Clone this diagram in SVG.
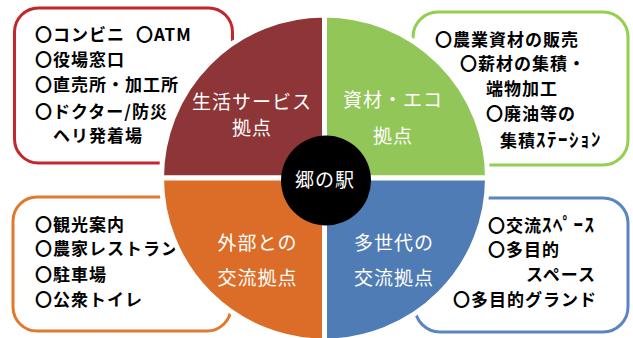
<svg xmlns="http://www.w3.org/2000/svg" width="633" height="338" viewBox="0 0 633 338">
<style>
.box{fill:#fff;stroke-width:3}
.t{font-family:"Noto Sans CJK JP","Noto Sans",sans-serif;font-weight:700;font-size:17px;letter-spacing:1px;fill:#000}
.hw{font-size:19px;letter-spacing:1.5px}
.w{font-family:"Noto Sans CJK JP","Noto Sans",sans-serif;font-weight:400;font-size:19px;letter-spacing:1px;fill:#fff;text-anchor:middle}
.q{stroke:#fff;stroke-width:5}
</style>
<rect width="633" height="338" fill="#fff"/>
<g id="box-service">
<rect class="box" x="14.5" y="8" width="218" height="155" rx="24" stroke="#C1272D"/>
<text class="t" x="35" y="41">〇コンビニ</text>
<text class="t" x="136" y="41">〇ATM</text>
<text class="t" x="35" y="66">〇役場窓口</text>
<text class="t" x="35" y="91">〇直売所・加工所</text>
<text class="t" x="35" y="118">〇ドクター/防災</text>
<text class="t" x="53" y="142">ヘリ発着場</text>
</g>
<g id="box-eco">
<rect class="box" x="413" y="12" width="215" height="153" rx="25" stroke="#92D050"/>
<text class="t" x="435" y="46">〇農業資材の販売</text>
<text class="t" x="460" y="70">〇薪材の集積・</text>
<text class="t" x="486" y="95">端物加工</text>
<text class="t" x="486" y="120">〇廃油等の</text>
<text class="t" x="500" y="147">集積<tspan class="hw">ｽﾃｰｼｮﾝ</tspan></text>
</g>
<g id="box-external">
<rect class="box" x="13" y="197" width="218" height="134" rx="24" stroke="#E07A2E"/>
<text class="t" x="35" y="231">〇観光案内</text>
<text class="t" x="35" y="255">〇農家レストラン</text>
<text class="t" x="35" y="281">〇駐車場</text>
<text class="t" x="35" y="306">〇公衆トイレ</text>
</g>
<g id="box-generation">
<rect class="box" x="415" y="198" width="213" height="134" rx="25" stroke="#5A86BF"/>
<text class="t" x="488" y="232">〇交流<tspan class="hw">ｽﾍﾟｰｽ</tspan></text>
<text class="t" x="488" y="256">〇多目的</text>
<text class="t" x="526" y="281">スペース</text>
<text class="t" x="453" y="306">〇多目的グランド</text>
</g>
<g id="q-service">
<path class="q" d="M324.5,178 L161.5,178 A163,163 0 0 1 324.5,15 Z" fill="#8E3537"/>
<text class="w" x="252" y="109">生活サービス</text>
<text class="w" x="252" y="135">拠点</text>
</g>
<g id="q-eco">
<path class="q" d="M324.5,178 L324.5,15 A163,163 0 0 1 487.5,178 Z" fill="#92C658"/>
<text class="w" x="393" y="107" font-size="18">資材・エコ</text>
<text class="w" x="393" y="143">拠点</text>
</g>
<g id="q-generation">
<path class="q" d="M324.5,178 L487.5,178 A163,163 0 0 1 324.5,341 Z" fill="#4F7CB4"/>
<text class="w" x="394" y="250">多世代の</text>
<text class="w" x="394" y="285">交流拠点</text>
</g>
<g id="q-external">
<path class="q" d="M324.5,178 L324.5,341 A163,163 0 0 1 161.5,178 Z" fill="#DB6D28"/>
<text class="w" x="257.5" y="250">外部との</text>
<text class="w" x="257.5" y="285">交流拠点</text>
</g>
<g id="center">
<circle cx="326" cy="180.5" r="45" fill="#000"/>
<text class="w" x="325" y="187" font-size="17" letter-spacing="0">郷の駅</text>
</g>
<g id="connectors"/>
</svg>
